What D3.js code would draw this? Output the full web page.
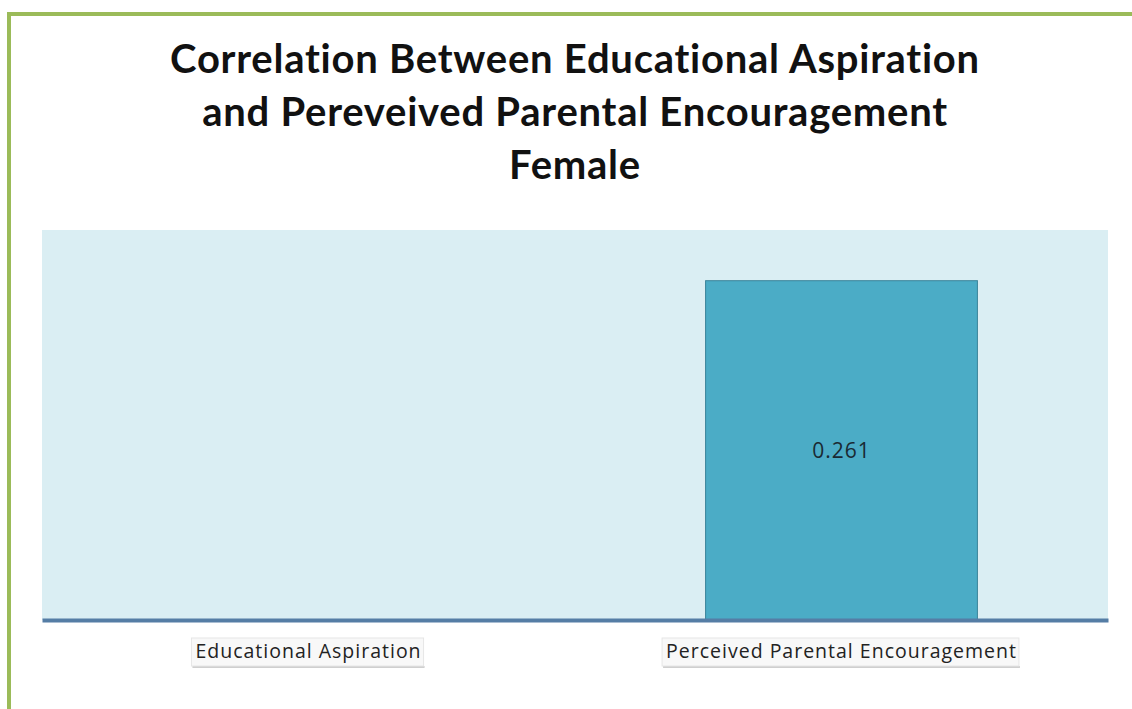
<!DOCTYPE html>
<html>
<head>
<meta charset="utf-8">
<script src="https://cdn.jsdelivr.net/npm/d3@7"></script>
<style>
  body { margin: 0; background: #fff; }
</style>
</head>
<body>
<div id="chart-area"></div>
<script>
// chart data
const categories = ["Educational Aspiration", "Perceived Parental Encouragement"]
const values = [0, 0.261]
const valueLabels = ["", "0.261"]
const titleLines = ["Correlation Between Educational Aspiration", "and Pereveived Parental Encouragement", "Female"]

// canvas and plot sizes
const W = 1132, H = 709
const PLOT = { LEFT: 42, RIGHT: 1108, TOP: 230, BOTTOM: 620 }

const svg = d3.select("#chart-area").append("svg")
  .attr("width", W)
  .attr("height", H)

// green frame (top + left visible)
svg.append("rect")
  .attr("x", 9).attr("y", 14)
  .attr("width", W + 20).attr("height", H + 20)
  .attr("fill", "none")
  .attr("stroke", "#9bbb59")
  .attr("stroke-width", 4)

// title
svg.append("g").selectAll("text")
  .data(titleLines)
  .enter().append("text")
  .attr("x", 575)
  .attr("y", (d, i) => 73 + i * 53)
  .attr("text-anchor", "middle")
  .attr("font-family", "Lato, 'Open Sans', sans-serif")
  .attr("font-weight", "bold")
  .attr("font-size", "40px")
  .attr("letter-spacing", "0.75px")
  .attr("fill", "#111")
  .text(d => d)

// plot background
svg.append("rect")
  .attr("x", PLOT.LEFT).attr("y", PLOT.TOP)
  .attr("width", PLOT.RIGHT - PLOT.LEFT)
  .attr("height", PLOT.BOTTOM - PLOT.TOP)
  .attr("fill", "#daeef3")

const x = d3.scaleBand()
  .domain(categories)
  .range([PLOT.LEFT, PLOT.RIGHT])
  .paddingInner(0.49)
  .paddingOuter(0.245)

const y = d3.scaleLinear()
  .domain([0, 0.3])
  .range([PLOT.BOTTOM, PLOT.TOP])

// bars
svg.append("g").selectAll("rect")
  .data(categories)
  .enter().append("rect")
  .attr("x", d => x(d))
  .attr("y", (d, i) => y(values[i]))
  .attr("width", x.bandwidth())
  .attr("height", (d, i) => y(0) - y(values[i]))
  .attr("fill", "#4bacc6")
  .attr("stroke", "#3a8399")
  .attr("stroke-width", 1)
  .attr("display", (d, i) => values[i] > 0 ? null : "none")

// value labels in the middle of bar
svg.append("g").selectAll("text")
  .data(categories)
  .enter().append("text")
  .attr("x", d => x(d) + x.bandwidth() / 2)
  .attr("y", (d, i) => (y(values[i]) + y(0)) / 2 + 8)
  .attr("text-anchor", "middle")
  .attr("font-family", "'Open Sans', sans-serif")
  .attr("font-size", "21px")
  .attr("letter-spacing", "1px")
  .attr("fill", "#1a2a33")
  .text((d, i) => valueLabels[i])

// x axis
const xAxisGroup = svg.append("g")
  .attr("transform", `translate(0, ${PLOT.BOTTOM})`)
xAxisGroup.call(d3.axisBottom(x).tickSize(0).tickPadding(0))
xAxisGroup.select(".domain")
  .attr("stroke", "#557da5")
  .attr("stroke-width", 4)
xAxisGroup.selectAll(".tick text").remove()

// category labels with little boxes
const lab = svg.append("g").selectAll("g")
  .data(categories)
  .enter().append("g")
  .attr("transform", d => `translate(${x(d) + x.bandwidth() / 2}, 658)`)

lab.append("text")
  .attr("text-anchor", "middle")
  .attr("font-family", "'Open Sans', sans-serif")
  .attr("font-size", "19.5px")
  .attr("letter-spacing", "1px")
  .attr("fill", "#222")
  .text(d => d)

lab.each(function() {
  const g = d3.select(this)
  const bb = g.select("text").node().getBBox()
  g.insert("rect", "text")
    .attr("x", bb.x - 4).attr("y", bb.y + 1)
    .attr("width", bb.width + 6).attr("height", bb.height + 1)
    .attr("fill", "#f8f8f8")
    .attr("stroke", "#e6e6e6")
    .attr("stroke-width", 1)
  g.insert("line", "rect")
    .attr("x1", bb.x - 3).attr("x2", bb.x + bb.width + 3)
    .attr("y1", bb.y + bb.height + 3).attr("y2", bb.y + bb.height + 3)
    .attr("stroke", "#cfcfcf")
    .attr("stroke-width", 2)
})
</script>
</body>
</html>
